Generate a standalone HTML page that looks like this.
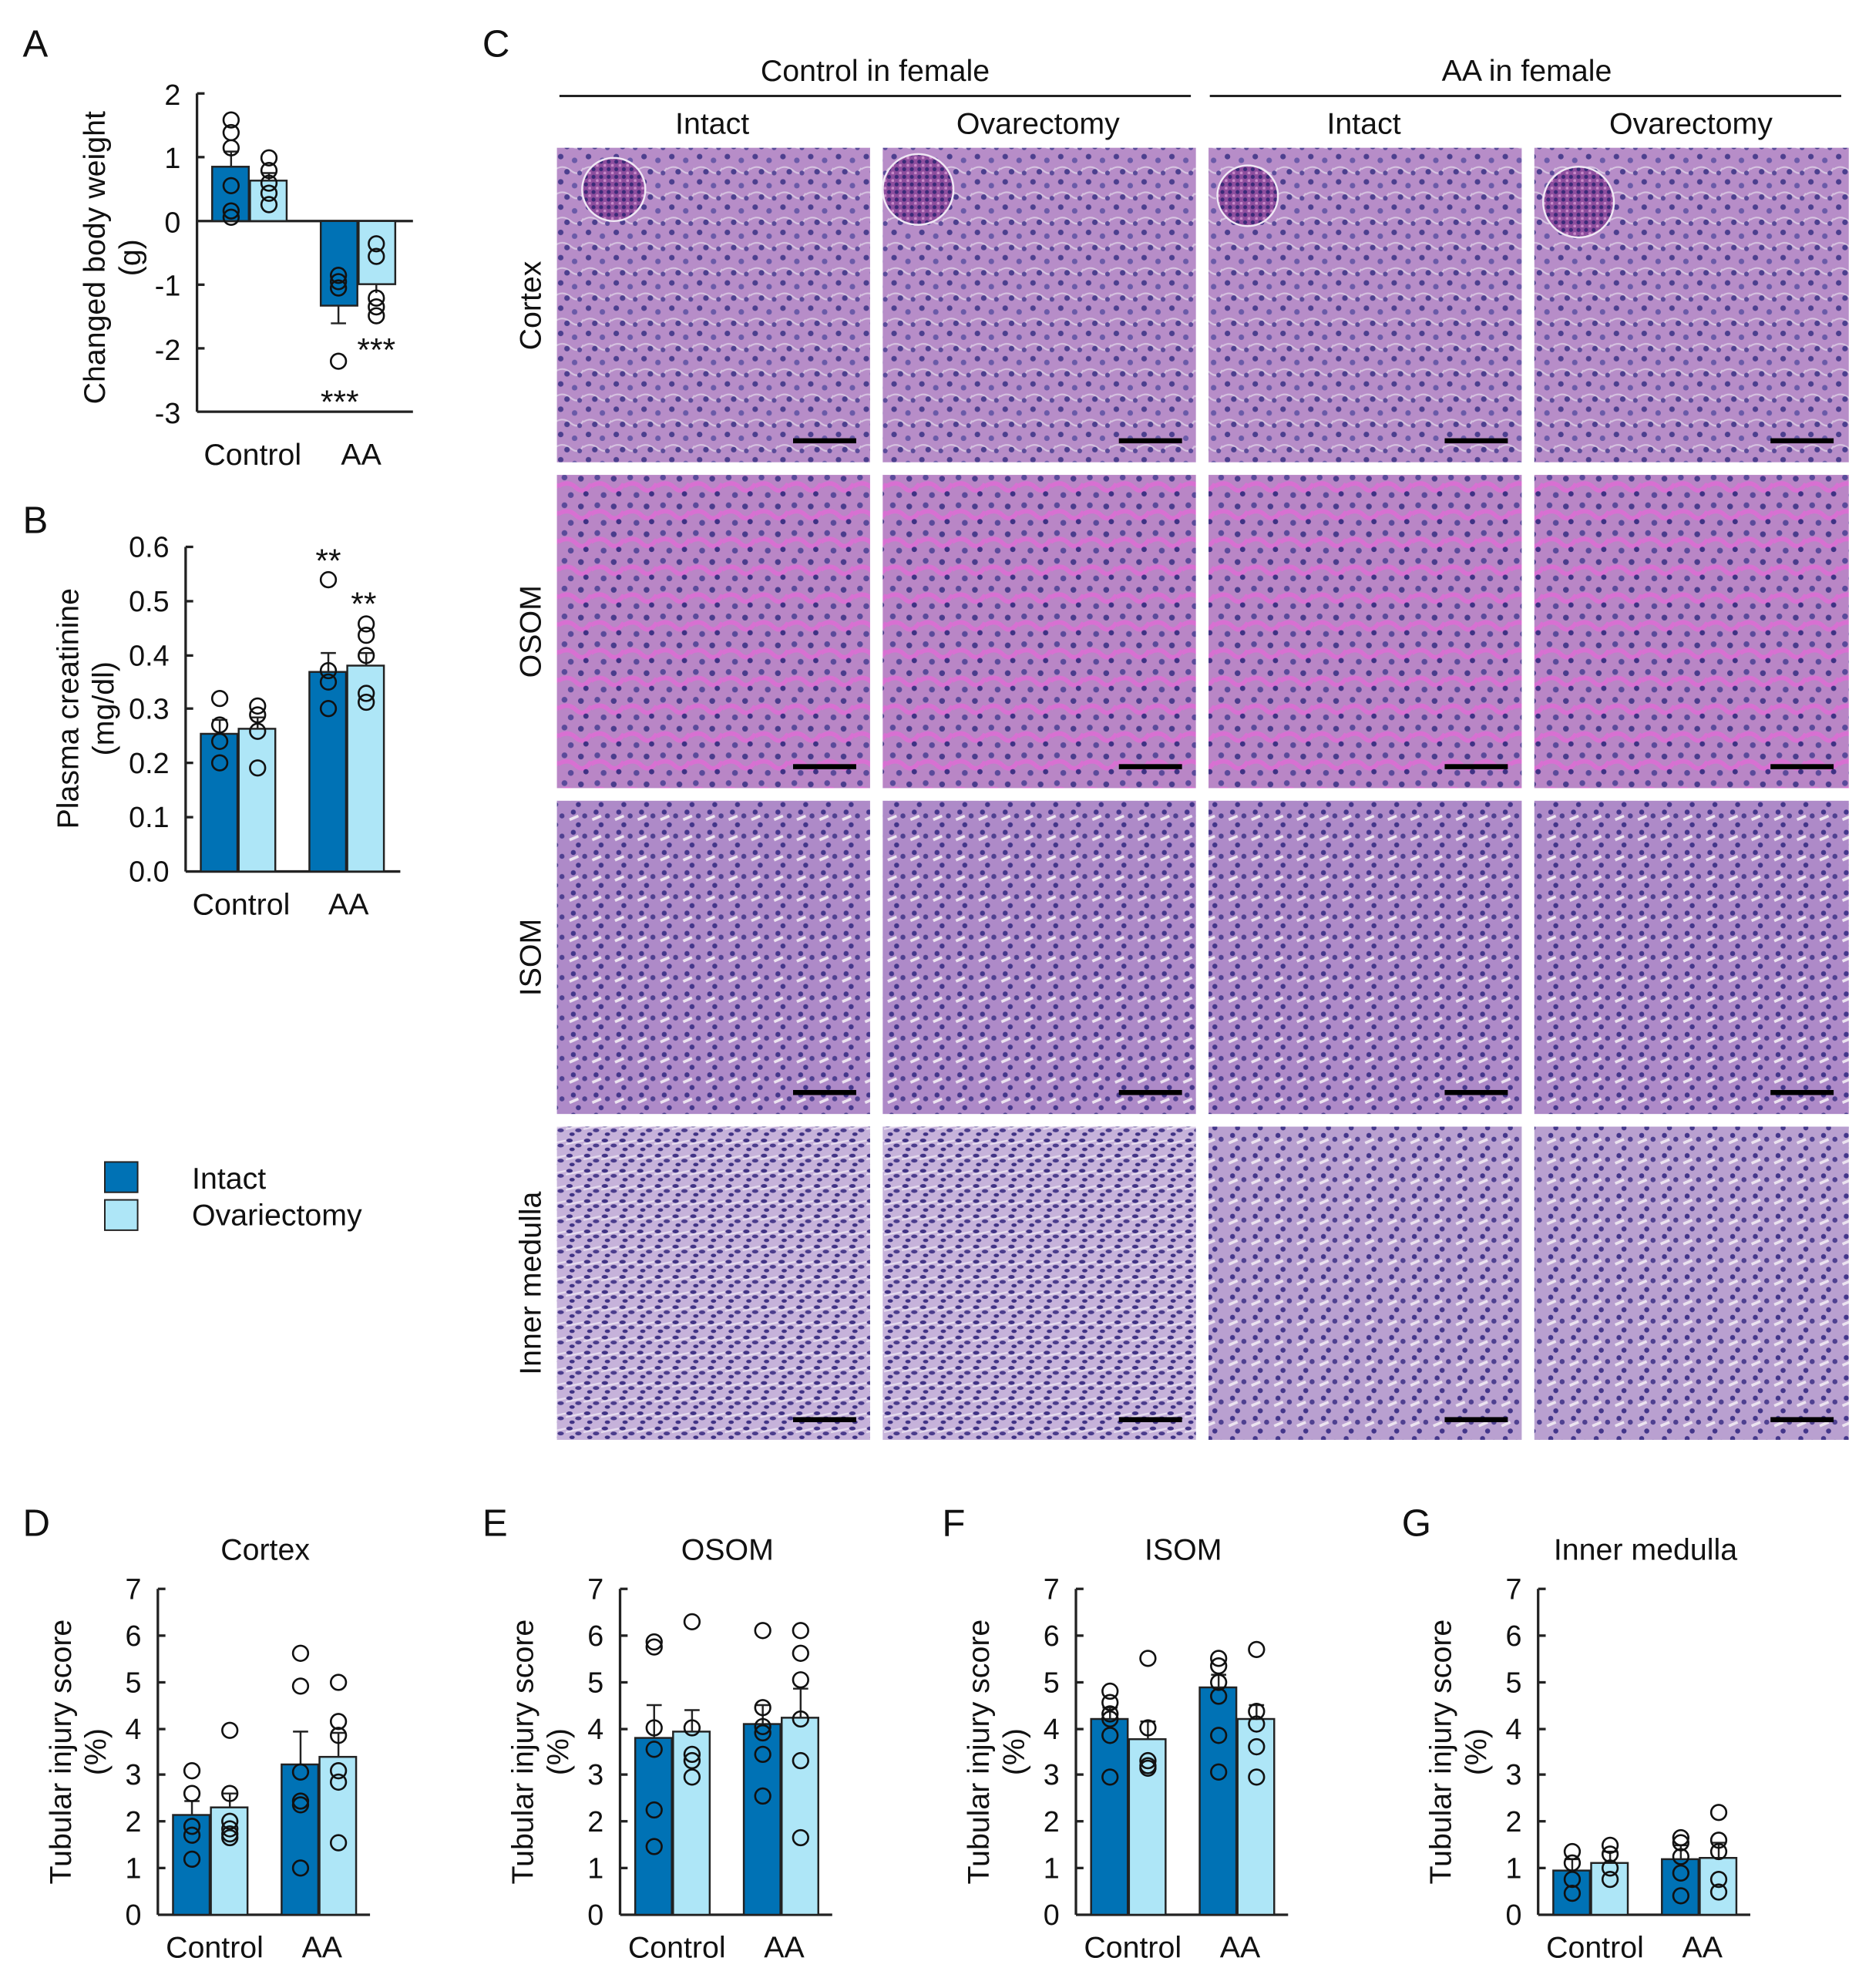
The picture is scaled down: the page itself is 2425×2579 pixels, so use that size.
<!DOCTYPE html>
<html><head><meta charset="utf-8"><style>
html,body{margin:0;padding:0;background:#fff}
svg{display:block}
text{font-family:"Liberation Sans",Arial,sans-serif;fill:#111}
</style></head><body>
<svg width="2425" height="2579" viewBox="0 0 1480 1574" preserveAspectRatio="none" xmlns="http://www.w3.org/2000/svg">
<defs>
<pattern id="pc" width="22" height="20" patternUnits="userSpaceOnUse">
<rect width="22" height="20" fill="#b78dc8"/>
<path d="M0 14 Q6 10 12 15 T22 13" stroke="#d6c3e0" stroke-width="1.3" fill="none"/>
<circle cx="4" cy="4" r="2.2" fill="#4c3f8e"/><circle cx="15" cy="7" r="2.2" fill="#6a5aa8"/>
<circle cx="9" cy="16" r="2.2" fill="#4c3f8e"/><circle cx="19" cy="17" r="1.9" fill="#5b4c9a"/>
</pattern>
<pattern id="po" width="26" height="22" patternUnits="userSpaceOnUse">
<rect width="26" height="22" fill="#b986c6"/>
<path d="M0 11 Q8 6 14 12 T26 9" stroke="#d870d2" stroke-width="3.5" fill="none"/>
<circle cx="5" cy="4" r="2.3" fill="#5a4a9a"/><circle cx="18" cy="5" r="2.3" fill="#4a3c8c"/>
<circle cx="10" cy="18" r="2.3" fill="#5a4a9a"/><circle cx="22" cy="17" r="2.1" fill="#3f3284"/>
</pattern>
<pattern id="pi" width="18" height="16" patternUnits="userSpaceOnUse">
<rect width="18" height="16" fill="#ae8ac8"/>
<path d="M1 9 L8 6" stroke="#ece4f0" stroke-width="2.2"/>
<circle cx="4" cy="3" r="2" fill="#43368a"/><circle cx="13" cy="6" r="2" fill="#4e4090"/>
<circle cx="8" cy="13" r="2" fill="#43368a"/>
</pattern>
<pattern id="pj" width="18" height="16" patternUnits="userSpaceOnUse">
<rect width="18" height="16" fill="#b9a0d0"/>
<path d="M1 9 L8 6" stroke="#ece4f0" stroke-width="2.2"/>
<circle cx="4" cy="3" r="2" fill="#43368a"/><circle cx="13" cy="6" r="2" fill="#4e4090"/>
<circle cx="8" cy="13" r="2" fill="#43368a"/>
</pattern>
<pattern id="pm" width="14" height="12" patternUnits="userSpaceOnUse">
<rect width="14" height="12" fill="#c6b2da"/>
<path d="M0 6 L14 3" stroke="#e6dcef" stroke-width="1.4"/>
<ellipse cx="3" cy="3" rx="2.5" ry="1.5" fill="#3f3284"/><ellipse cx="10" cy="7" rx="2.5" ry="1.5" fill="#4a3c8c"/>
<ellipse cx="5" cy="10" rx="2.1" ry="1.4" fill="#3f3284"/>
</pattern>
<pattern id="pg" width="6" height="6" patternUnits="userSpaceOnUse">
<rect width="6" height="6" fill="#8e4e9e"/><circle cx="2" cy="2" r="1.6" fill="#3b2a78"/><circle cx="5" cy="5" r="1.2" fill="#c889c8"/>
</pattern>
</defs>

<text x="18" y="45" font-size="30">A</text>
<text x="18" y="422" font-size="30">B</text>
<text x="382" y="45" font-size="30">C</text>
<text x="18" y="1216" font-size="30">D</text>
<text x="382" y="1216" font-size="30">E</text>
<text x="746" y="1216" font-size="30">F</text>
<text x="1110" y="1216" font-size="30">G</text>

<!-- Panel A -->
<g stroke="#222" stroke-width="2" fill="none">
<line x1="156" y1="74" x2="156" y2="326"/><line x1="156" y1="326" x2="327" y2="326"/>
<line x1="156" y1="175" x2="327" y2="175"/>
<line x1="156" y1="74" x2="162" y2="74"/><line x1="156" y1="124.4" x2="162" y2="124.4"/><line x1="156" y1="225.4" x2="162" y2="225.4"/><line x1="156" y1="275.8" x2="162" y2="275.8"/>
</g>
<g font-size="23" text-anchor="end">
<text x="143" y="83">2</text><text x="143" y="133">1</text><text x="143" y="184">0</text><text x="143" y="234">-1</text><text x="143" y="285">-2</text><text x="143" y="335">-3</text>
</g>
<g stroke="#222" stroke-width="1.5">
<rect x="168" y="132" width="29" height="43" fill="#0072b5"/>
<rect x="198" y="143" width="29" height="32" fill="#aee6f7"/>
<rect x="254" y="175" width="29" height="67" fill="#0072b5"/>
<rect x="284" y="175" width="29" height="50" fill="#aee6f7"/>
<line x1="183" y1="132" x2="183" y2="120"/><line x1="177" y1="120" x2="189" y2="120"/>
<line x1="213" y1="143" x2="213" y2="137"/><line x1="207" y1="137" x2="219" y2="137"/>
<line x1="268" y1="242" x2="268" y2="256"/><line x1="262" y1="256" x2="274" y2="256"/>
<line x1="298" y1="225" x2="298" y2="232"/>
</g>
<g stroke="#111" stroke-width="1.6" fill="none">
<circle cx="183" cy="95" r="6"/><circle cx="183" cy="105" r="6"/><circle cx="183" cy="117" r="6"/><circle cx="183" cy="147" r="6"/><circle cx="183" cy="167" r="6"/><circle cx="183" cy="172" r="6"/>
<circle cx="213" cy="125" r="6"/><circle cx="213" cy="135" r="6"/><circle cx="213" cy="145" r="6"/><circle cx="213" cy="153" r="6"/><circle cx="213" cy="162" r="6"/>
<circle cx="268" cy="218" r="6"/><circle cx="268" cy="223" r="6"/><circle cx="268" cy="228" r="6"/><circle cx="268" cy="286" r="6"/>
<circle cx="298" cy="193" r="6"/><circle cx="298" cy="203" r="6"/><circle cx="298" cy="236" r="6"/><circle cx="298" cy="243" r="6"/><circle cx="298" cy="250" r="6"/>
</g>
<text x="269" y="327" font-size="26" text-anchor="middle">***</text>
<text x="298" y="286" font-size="26" text-anchor="middle">***</text>
<text x="200" y="368" font-size="24" text-anchor="middle">Control</text>
<text x="286" y="368" font-size="24" text-anchor="middle">AA</text>
<text transform="translate(83,204) rotate(-90)" font-size="24" text-anchor="middle">Changed body weight</text>
<text transform="translate(111,204) rotate(-90)" font-size="24" text-anchor="middle">(g)</text>

<!-- Panel B -->
<g stroke="#222" stroke-width="2">
<line x1="147" y1="433" x2="147" y2="690"/><line x1="147" y1="690" x2="317" y2="690"/>
<line x1="147" y1="433" x2="153" y2="433"/><line x1="147" y1="476" x2="153" y2="476"/><line x1="147" y1="519" x2="153" y2="519"/><line x1="147" y1="561" x2="153" y2="561"/><line x1="147" y1="604" x2="153" y2="604"/><line x1="147" y1="647" x2="153" y2="647"/>
</g>
<g font-size="23" text-anchor="end">
<text x="134" y="441">0.6</text><text x="134" y="484">0.5</text><text x="134" y="527">0.4</text><text x="134" y="569">0.3</text><text x="134" y="612">0.2</text><text x="134" y="655">0.1</text><text x="134" y="698">0.0</text>
</g>
<g stroke="#222" stroke-width="1.5">
<rect x="159" y="581" width="29" height="109" fill="#0072b5"/>
<rect x="189" y="577" width="29" height="113" fill="#aee6f7"/>
<rect x="245" y="532" width="29" height="158" fill="#0072b5"/>
<rect x="275" y="527" width="29" height="163" fill="#aee6f7"/>
<line x1="174" y1="581" x2="174" y2="570"/><line x1="168" y1="570" x2="180" y2="570"/>
<line x1="204" y1="577" x2="204" y2="568"/><line x1="198" y1="568" x2="210" y2="568"/>
<line x1="260" y1="532" x2="260" y2="517"/><line x1="254" y1="517" x2="266" y2="517"/>
<line x1="290" y1="527" x2="290" y2="517"/><line x1="284" y1="517" x2="296" y2="517"/>
</g>
<g stroke="#111" stroke-width="1.6" fill="none">
<circle cx="174" cy="553" r="6"/><circle cx="174" cy="574" r="6"/><circle cx="174" cy="587" r="6"/><circle cx="174" cy="604" r="6"/>
<circle cx="204" cy="559" r="6"/><circle cx="204" cy="566" r="6"/><circle cx="204" cy="579" r="6"/><circle cx="204" cy="608" r="6"/>
<circle cx="260" cy="459" r="6"/><circle cx="260" cy="531" r="6"/><circle cx="260" cy="540" r="6"/><circle cx="260" cy="561" r="6"/>
<circle cx="290" cy="494" r="6"/><circle cx="290" cy="503" r="6"/><circle cx="290" cy="519" r="6"/><circle cx="290" cy="549" r="6"/><circle cx="290" cy="556" r="6"/>
</g>
<text x="260" y="453" font-size="26" text-anchor="middle">**</text>
<text x="288" y="487" font-size="26" text-anchor="middle">**</text>
<text x="191" y="724" font-size="24" text-anchor="middle">Control</text>
<text x="276" y="724" font-size="24" text-anchor="middle">AA</text>
<text transform="translate(62,561) rotate(-90)" font-size="24" text-anchor="middle">Plasma creatinine</text>
<text transform="translate(90,561) rotate(-90)" font-size="24" text-anchor="middle">(mg/dl)</text>

<!-- Legend -->
<rect x="83" y="920" width="26" height="24" fill="#0072b5" stroke="#222" stroke-width="1.2"/>
<rect x="83" y="950" width="26" height="24" fill="#aee6f7" stroke="#222" stroke-width="1.2"/>
<text x="152" y="941" font-size="24">Intact</text>
<text x="152" y="970" font-size="24">Ovariectomy</text>

<!-- Panel C headers -->
<text x="693" y="64" font-size="24" text-anchor="middle">Control in female</text>
<text x="1209" y="64" font-size="24" text-anchor="middle">AA in female</text>
<line x1="443" y1="76" x2="943" y2="76" stroke="#222" stroke-width="1.8"/>
<line x1="958" y1="76" x2="1458" y2="76" stroke="#222" stroke-width="1.8"/>
<text x="564" y="106" font-size="24" text-anchor="middle">Intact</text>
<text x="822" y="106" font-size="24" text-anchor="middle">Ovarectomy</text>
<text x="1080" y="106" font-size="24" text-anchor="middle">Intact</text>
<text x="1339" y="106" font-size="24" text-anchor="middle">Ovarectomy</text>
<text transform="translate(428,242) rotate(-90)" font-size="24" text-anchor="middle">Cortex</text>
<text transform="translate(428,500) rotate(-90)" font-size="24" text-anchor="middle">OSOM</text>
<text transform="translate(428,758) rotate(-90)" font-size="24" text-anchor="middle">ISOM</text>
<text transform="translate(428,1016) rotate(-90)" font-size="24" text-anchor="middle">Inner medulla</text>

<g>
<rect x="441" y="117" width="248" height="249" fill="url(#pc)"/>
<rect x="699" y="117" width="248" height="249" fill="url(#pc)"/>
<rect x="957" y="117" width="248" height="249" fill="url(#pc)"/>
<rect x="1215" y="117" width="249" height="249" fill="url(#pc)"/>
<circle cx="486" cy="150" r="25" fill="url(#pg)" stroke="#f0e8f4" stroke-width="1.5"/>
<circle cx="727" cy="150" r="28" fill="url(#pg)" stroke="#f0e8f4" stroke-width="1.5"/>
<circle cx="988" cy="155" r="24" fill="url(#pg)" stroke="#f0e8f4" stroke-width="1.5"/>
<circle cx="1250" cy="160" r="28" fill="url(#pg)" stroke="#f0e8f4" stroke-width="1.5"/>
<rect x="441" y="376" width="248" height="248" fill="url(#po)"/>
<rect x="699" y="376" width="248" height="248" fill="url(#po)"/>
<rect x="957" y="376" width="248" height="248" fill="url(#po)"/>
<rect x="1215" y="376" width="249" height="248" fill="url(#po)"/>
<rect x="441" y="634" width="248" height="248" fill="url(#pi)"/>
<rect x="699" y="634" width="248" height="248" fill="url(#pi)"/>
<rect x="957" y="634" width="248" height="248" fill="url(#pi)"/>
<rect x="1215" y="634" width="249" height="248" fill="url(#pi)"/>
<rect x="441" y="892" width="248" height="248" fill="url(#pm)"/>
<rect x="699" y="892" width="248" height="248" fill="url(#pm)"/>
<rect x="957" y="892" width="248" height="248" fill="url(#pj)"/>
<rect x="1215" y="892" width="249" height="248" fill="url(#pj)"/>
</g>
<g fill="#000">
<rect x="628" y="347" width="50" height="4"/><rect x="886" y="347" width="50" height="4"/><rect x="1144" y="347" width="50" height="4"/><rect x="1402" y="347" width="50" height="4"/>
<rect x="628" y="605" width="50" height="4"/><rect x="886" y="605" width="50" height="4"/><rect x="1144" y="605" width="50" height="4"/><rect x="1402" y="605" width="50" height="4"/>
<rect x="628" y="863" width="50" height="4"/><rect x="886" y="863" width="50" height="4"/><rect x="1144" y="863" width="50" height="4"/><rect x="1402" y="863" width="50" height="4"/>
<rect x="628" y="1122" width="50" height="4"/><rect x="886" y="1122" width="50" height="4"/><rect x="1144" y="1122" width="50" height="4"/><rect x="1402" y="1122" width="50" height="4"/>
</g>

<g id="axes">
<g stroke="#222" stroke-width="2">
<line x1="125" y1="1258" x2="125" y2="1516"/><line x1="125" y1="1516" x2="293" y2="1516"/>
<line x1="125" y1="1258" x2="131" y2="1258"/><line x1="125" y1="1295" x2="131" y2="1295"/><line x1="125" y1="1332" x2="131" y2="1332"/><line x1="125" y1="1369" x2="131" y2="1369"/><line x1="125" y1="1405" x2="131" y2="1405"/><line x1="125" y1="1442" x2="131" y2="1442"/><line x1="125" y1="1479" x2="131" y2="1479"/>
</g>
<g font-size="23" text-anchor="end">
<text x="112" y="1266">7</text><text x="112" y="1303">6</text><text x="112" y="1340">5</text><text x="112" y="1377">4</text><text x="112" y="1413">3</text><text x="112" y="1450">2</text><text x="112" y="1487">1</text><text x="112" y="1524">0</text>
</g>
<text x="170" y="1550" font-size="24" text-anchor="middle">Control</text>
<text x="255" y="1550" font-size="24" text-anchor="middle">AA</text>
<text transform="translate(56,1387) rotate(-90)" font-size="24" text-anchor="middle">Tubular injury score</text>
<text transform="translate(84,1387) rotate(-90)" font-size="24" text-anchor="middle">(%)</text>
</g>
<use href="#axes" transform="translate(366,0)"/>
<use href="#axes" transform="translate(727,0)"/>
<use href="#axes" transform="translate(1093,0)"/>
<text x="210" y="1235" font-size="24" text-anchor="middle">Cortex</text>
<text x="576" y="1235" font-size="24" text-anchor="middle">OSOM</text>
<text x="937" y="1235" font-size="24" text-anchor="middle">ISOM</text>
<text x="1303" y="1235" font-size="24" text-anchor="middle">Inner medulla</text>

<!-- D -->
<g stroke="#222" stroke-width="1.5">
<rect x="137" y="1437" width="29" height="79" fill="#0072b5"/><rect x="167" y="1431" width="29" height="85" fill="#aee6f7"/>
<rect x="223" y="1397" width="29" height="119" fill="#0072b5"/><rect x="253" y="1391" width="29" height="125" fill="#aee6f7"/>
<path d="M152 1437V1426M146 1426H158M182 1431V1420M176 1420H188M238 1397V1371M232 1371H244M268 1391V1372M262 1372H274"/>
</g>
<g stroke="#111" stroke-width="1.6" fill="none">
<circle cx="152" cy="1402" r="6"/><circle cx="152" cy="1420" r="6"/><circle cx="152" cy="1446" r="6"/><circle cx="152" cy="1453" r="6"/><circle cx="152" cy="1472" r="6"/>
<circle cx="182" cy="1370" r="6"/><circle cx="182" cy="1420" r="6"/><circle cx="182" cy="1442" r="6"/><circle cx="182" cy="1448" r="6"/><circle cx="182" cy="1452" r="6"/><circle cx="182" cy="1455" r="6"/>
<circle cx="238" cy="1309" r="6"/><circle cx="238" cy="1335" r="6"/><circle cx="238" cy="1403" r="6"/><circle cx="238" cy="1426" r="6"/><circle cx="238" cy="1429" r="6"/><circle cx="238" cy="1479" r="6"/>
<circle cx="268" cy="1332" r="6"/><circle cx="268" cy="1363" r="6"/><circle cx="268" cy="1374" r="6"/><circle cx="268" cy="1402" r="6"/><circle cx="268" cy="1411" r="6"/><circle cx="268" cy="1459" r="6"/>
</g>

<!-- E -->
<g transform="translate(366,0)">
<g stroke="#222" stroke-width="1.5">
<rect x="137" y="1376" width="29" height="140" fill="#0072b5"/><rect x="167" y="1371" width="29" height="145" fill="#aee6f7"/>
<rect x="223" y="1365" width="29" height="151" fill="#0072b5"/><rect x="253" y="1360" width="29" height="156" fill="#aee6f7"/>
<path d="M152 1376V1350M146 1350H158M182 1371V1354M176 1354H188M238 1365V1350M232 1350H244M268 1360V1337M262 1337H274"/>
</g>
<g stroke="#111" stroke-width="1.6" fill="none">
<circle cx="152" cy="1300" r="6"/><circle cx="152" cy="1304" r="6"/><circle cx="152" cy="1368" r="6"/><circle cx="152" cy="1385" r="6"/><circle cx="152" cy="1433" r="6"/><circle cx="152" cy="1462" r="6"/>
<circle cx="182" cy="1284" r="6"/><circle cx="182" cy="1368" r="6"/><circle cx="182" cy="1389" r="6"/><circle cx="182" cy="1394" r="6"/><circle cx="182" cy="1407" r="6"/>
<circle cx="238" cy="1291" r="6"/><circle cx="238" cy="1352" r="6"/><circle cx="238" cy="1367" r="6"/><circle cx="238" cy="1372" r="6"/><circle cx="238" cy="1389" r="6"/><circle cx="238" cy="1422" r="6"/>
<circle cx="268" cy="1291" r="6"/><circle cx="268" cy="1309" r="6"/><circle cx="268" cy="1330" r="6"/><circle cx="268" cy="1361" r="6"/><circle cx="268" cy="1394" r="6"/><circle cx="268" cy="1455" r="6"/>
</g></g>

<!-- F -->
<g transform="translate(727,0)">
<g stroke="#222" stroke-width="1.5">
<rect x="137" y="1361" width="29" height="155" fill="#0072b5"/><rect x="167" y="1377" width="29" height="139" fill="#aee6f7"/>
<rect x="223" y="1336" width="29" height="180" fill="#0072b5"/><rect x="253" y="1361" width="29" height="155" fill="#aee6f7"/>
<path d="M152 1361V1352M146 1352H158M182 1377V1363M176 1363H188M238 1336V1326M232 1326H244M268 1361V1350M262 1350H274"/>
</g>
<g stroke="#111" stroke-width="1.6" fill="none">
<circle cx="152" cy="1339" r="6"/><circle cx="152" cy="1348" r="6"/><circle cx="152" cy="1357" r="6"/><circle cx="152" cy="1361" r="6"/><circle cx="152" cy="1374" r="6"/><circle cx="152" cy="1407" r="6"/>
<circle cx="182" cy="1313" r="6"/><circle cx="182" cy="1368" r="6"/><circle cx="182" cy="1394" r="6"/><circle cx="182" cy="1398" r="6"/><circle cx="182" cy="1400" r="6"/>
<circle cx="238" cy="1313" r="6"/><circle cx="238" cy="1319" r="6"/><circle cx="238" cy="1332" r="6"/><circle cx="238" cy="1343" r="6"/><circle cx="238" cy="1374" r="6"/><circle cx="238" cy="1403" r="6"/>
<circle cx="268" cy="1306" r="6"/><circle cx="268" cy="1355" r="6"/><circle cx="268" cy="1365" r="6"/><circle cx="268" cy="1383" r="6"/><circle cx="268" cy="1407" r="6"/>
</g></g>

<!-- G -->
<g transform="translate(1093,0)">
<g stroke="#222" stroke-width="1.5">
<rect x="137" y="1481" width="29" height="35" fill="#0072b5"/><rect x="167" y="1475" width="29" height="41" fill="#aee6f7"/>
<rect x="223" y="1472" width="29" height="44" fill="#0072b5"/><rect x="253" y="1471" width="29" height="45" fill="#aee6f7"/>
<path d="M152 1481V1472M146 1472H158M182 1475V1466M176 1466H188M238 1472V1461M232 1461H244M268 1471V1459M262 1459H274"/>
</g>
<g stroke="#111" stroke-width="1.6" fill="none">
<circle cx="152" cy="1466" r="6"/><circle cx="152" cy="1475" r="6"/><circle cx="152" cy="1488" r="6"/><circle cx="152" cy="1499" r="6"/>
<circle cx="182" cy="1461" r="6"/><circle cx="182" cy="1468" r="6"/><circle cx="182" cy="1479" r="6"/><circle cx="182" cy="1488" r="6"/>
<circle cx="238" cy="1455" r="6"/><circle cx="238" cy="1459" r="6"/><circle cx="238" cy="1470" r="6"/><circle cx="238" cy="1483" r="6"/><circle cx="238" cy="1501" r="6"/>
<circle cx="268" cy="1435" r="6"/><circle cx="268" cy="1457" r="6"/><circle cx="268" cy="1466" r="6"/><circle cx="268" cy="1488" r="6"/><circle cx="268" cy="1498" r="6"/>
</g></g>
</svg>
</body></html>
